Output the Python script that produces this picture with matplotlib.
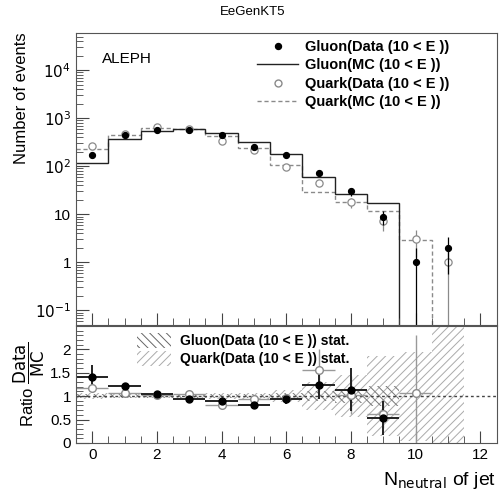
import matplotlib
matplotlib.use('Agg')
import matplotlib.pyplot as plt
import numpy as np
from matplotlib.lines import Line2D
from matplotlib.patches import Patch
from matplotlib.ticker import MultipleLocator, LogLocator, NullFormatter, FixedLocator, FixedFormatter

plt.rcParams['font.family'] = ['Liberation Sans', 'DejaVu Sans']
plt.rcParams['hatch.linewidth'] = 0.7

# bins: N_neutral = 0..11
nbins = np.arange(12)
edges = np.arange(13) - 0.5

gluon_mc = [117, 370, 535, 600, 490, 315, 183, 59, 27, 17.5, 0, 0]
quark_mc = [229, 440, 625, 600, 420, 240, 108, 29.5, 18, 11.6, 2.9, 0]
gluon_data = [168, 455, 560, 560, 440, 255, 175, 72, 30, 9, 1, 2]
quark_data = [268, 475, 645, 600, 340, 215, 98, 45, 18, 7.3, 3, 1]

# ratio panel
gluon_ratio = [1.41, 1.21, 1.05, 0.93, 0.89, 0.82, 0.94, 1.23, 1.14, 0.53]
gluon_ratio_err = [0.25, 0.08, 0.05, 0.04, 0.05, 0.06, 0.10, 0.30, 0.45, 0.37]
quark_ratio = [1.18, 1.06, 1.02, 1.05, 0.82, 0.93, 0.95, 1.56, 1.02, 0.62, 1.06]
quark_ratio_err = [0.10, 0.05, 0.04, 0.04, 0.04, 0.05, 0.10, 0.45, 0.40, 0.30, 1.25]
gluon_band = [0.05, 0.04, 0.04, 0.04, 0.04, 0.05, 0.06, 0.10, 0.15, 0.22]
quark_band = [0.07, 0.05, 0.05, 0.05, 0.06, 0.07, 0.12, 0.30, 0.45, 0.85, 0.95, 1.6]

dark = '#222222'
grey = '#8a8a8a'

fig = plt.figure(figsize=(5.0, 4.9), dpi=100)
ax = fig.add_axes([0.152, 0.337, 0.841, 0.596])
rx = fig.add_axes([0.152, 0.096, 0.841, 0.239])

# ---- upper panel
def nz(v):
    v = np.asarray(v, float)
    return np.where(v > 0, v, 1e-6)

ax.stairs(nz(quark_mc), edges, color=grey, lw=1.0, ls=(0, (3, 2)), baseline=None)
ax.stairs(nz(gluon_mc), edges, color=dark, lw=1.0, baseline=None)

for vals, col, filled in [(quark_data, grey, False), (gluon_data, 'black', True)]:
    v = np.asarray(vals, float)
    err = np.sqrt(v)
    lo = np.maximum(v - err, 1e-6)
    ax.vlines(nbins, lo, v + err, color=col, lw=0.9)
    ax.plot(nbins, v, 'o', ms=4.3 if filled else 5.2,
            mfc='black' if filled else 'white', mec=col, mew=0.9, ls='none')

ax.set_yscale('log')
ax.set_ylim(0.05, 6e4)
ax.set_xlim(-0.5, 12.5)
ax.yaxis.set_major_locator(FixedLocator([0.1, 1, 10, 100, 1000, 1e4]))
ax.yaxis.set_major_formatter(FixedFormatter([r'$10^{-1}$', '1', '10', r'$10^{2}$', r'$10^{3}$', r'$10^{4}$']))
ax.yaxis.set_minor_locator(LogLocator(subs=np.arange(2, 10), numticks=20))
ax.yaxis.set_minor_formatter(NullFormatter())
ax.xaxis.set_major_locator(MultipleLocator(2))
ax.xaxis.set_minor_locator(MultipleLocator(0.5))
ax.tick_params(axis='x', labelbottom=False)
ax.tick_params(which='both', direction='in', labelsize=11, color='#444444')
ax.tick_params(which='major', length=9)
ax.tick_params(which='minor', length=5)
ax.set_ylabel('Number of events', fontsize=12, loc='top', labelpad=4)
ax.text(0.062, 0.91, 'ALEPH', transform=ax.transAxes, fontsize=11, va='center')
fig.text(0.505, 0.975, 'EeGenKT5', ha='center', va='center', fontsize=9.5)

handles = [
    Line2D([], [], marker='o', ls='none', mfc='black', mec='black', ms=4.3),
    Line2D([], [], color=dark, lw=1.0),
    Line2D([], [], marker='o', ls='none', mfc='white', mec=grey, ms=5),
    Line2D([], [], color=grey, lw=1.0, ls=(0, (3, 2))),
]
labels = ['Gluon(Data (10 < E ))', 'Gluon(MC (10 < E ))',
          'Quark(Data (10 < E ))', 'Quark(MC (10 < E ))']
leg = ax.legend(handles, labels, loc='upper left', bbox_to_anchor=(0.41, 1.005),
                frameon=False, fontsize=10.5, handlelength=2.8, handletextpad=0.5,
                labelspacing=0.3, borderaxespad=0.2)
for t in leg.get_texts():
    t.set_fontweight('bold')

# ---- ratio panel
for i, hw in enumerate(quark_band):
    rx.fill_between([edges[i], edges[i + 1]], 1 - hw, 1 + hw, facecolor='none',
                    edgecolor='#aaaaaa', hatch='////', lw=0)
for i, hw in enumerate(gluon_band):
    rx.fill_between([edges[i], edges[i + 1]], 1 - hw, 1 + hw, facecolor='none',
                    edgecolor='#777777', hatch='\\\\\\\\', lw=0)

rx.axhline(1.0, color='#444444', lw=1.0, ls=(0, (2, 2)), clip_on=False)

qx = nbins[:len(quark_ratio)]
rx.errorbar(qx, quark_ratio, yerr=quark_ratio_err, xerr=0.5, fmt='o', ms=5.5,
            mfc='white', mec=grey, ecolor='#999999', elinewidth=1.0, capsize=0)
gx = nbins[:len(gluon_ratio)]
rx.errorbar(gx, gluon_ratio, yerr=gluon_ratio_err, xerr=0.5, fmt='o', ms=5,
            mfc='black', mec='black', ecolor=dark, elinewidth=1.4, capsize=0)

rx.set_xlim(-0.5, 12.5)
rx.set_ylim(0, 2.5)
rx.xaxis.set_major_locator(MultipleLocator(2))
rx.xaxis.set_minor_locator(MultipleLocator(0.5))
rx.yaxis.set_major_locator(FixedLocator([0, 0.5, 1, 1.5, 2]))
rx.yaxis.set_major_formatter(FixedFormatter(['0', '0.5', '1', '1.5', '2']))
rx.yaxis.set_minor_locator(MultipleLocator(0.1))
rx.tick_params(which='both', direction='in', labelsize=11, color='#444444')
rx.tick_params(which='major', length=9)
rx.tick_params(which='minor', length=5)
rx.set_ylabel(r'Ratio $\dfrac{\mathrm{Data}}{\mathrm{MC}}$', fontsize=12, labelpad=2)
rx.set_xlabel(r'N$_{\mathrm{neutral}}$ of jet', fontsize=14, loc='right', labelpad=6)

bh = [Patch(facecolor='none', edgecolor='#666666', hatch='\\\\\\\\', lw=0),
      Patch(facecolor='none', edgecolor='#aaaaaa', hatch='////', lw=0)]
bl = ['Gluon(Data (10 < E )) stat.', 'Quark(Data (10 < E )) stat.']
leg2 = rx.legend(bh, bl, loc='upper left', bbox_to_anchor=(0.128, 1.0), frameon=False,
                 fontsize=10, handlelength=2.5, handleheight=1.3, handletextpad=0.6,
                 labelspacing=0.2, borderaxespad=0.1)
for t in leg2.get_texts():
    t.set_fontweight('bold')

for a in (ax, rx):
    for s in a.spines.values():
        s.set_color('#555555')

fig.savefig('out.png', dpi=100)
